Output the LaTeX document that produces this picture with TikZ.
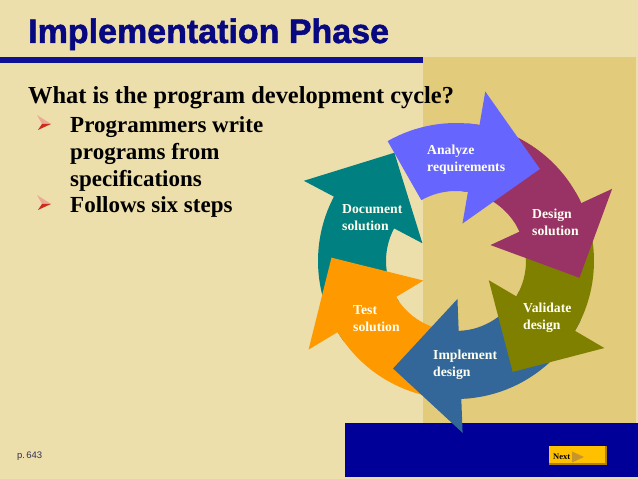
\documentclass[tikz,border=0pt]{standalone}
\usepackage{fontspec}
\setmainfont{Liberation Serif}
\newfontfamily\sansf{Liberation Sans}
\newfontfamily\titlef[FakeBold=1.5]{Liberation Sans}
\definecolor{bglight}{RGB}{237,223,172}
\definecolor{bgdark}{RGB}{226,203,122}
\definecolor{navy}{RGB}{8,8,128}
\definecolor{linebl}{RGB}{16,16,150}
\definecolor{barblue}{RGB}{0,0,153}
\definecolor{cAna}{RGB}{102,102,255}
\definecolor{cDes}{RGB}{153,51,102}
\definecolor{cVal}{RGB}{128,128,0}
\definecolor{cImp}{RGB}{51,102,153}
\definecolor{cTes}{RGB}{255,153,0}
\definecolor{cDoc}{RGB}{0,128,128}
\definecolor{lbltext}{RGB}{255,255,240}
\definecolor{btngold}{RGB}{255,192,0}
\definecolor{btndark}{RGB}{176,128,0}
\definecolor{btntri}{RGB}{200,150,40}
\definecolor{bulletlt}{RGB}{236,170,150}
\definecolor{bulletdk}{RGB}{200,45,30}
\newcommand{\cycarrow}[3]{%
  \fill[#1] (#2:138pt) arc[start angle=#2, end angle=#3, radius=138pt]
    -- (#3:172pt) -- (#3-32.54:124.56pt) -- (#3:38pt) -- (#3:70pt)
    arc[start angle=#3, end angle=#2, radius=70pt] -- cycle;}
\newcommand{\bulletmark}[1]{%
  \fill[bulletlt] (37,#1+9) -- (51,#1) -- (42,#1) -- cycle;
  \fill[bulletdk] (38,#1-6) -- (51,#1) -- (42,#1) -- cycle;}
\tikzset{
  lbl/.style={anchor=base west, inner sep=0pt, text=lbltext,
    font=\bfseries\fontsize{13.7}{17}\selectfont},
  body/.style={anchor=base west, inner sep=0pt, text=black,
    font=\bfseries\fontsize{23}{27}\selectfont}
}
\begin{document}
\begin{tikzpicture}[x=1pt,y=1pt]
\useasboundingbox (0,0) rectangle (638,479);
\fill[bglight] (0,0) rectangle (638,479);
\fill[bgdark] (423,56) rectangle (636,422);
\fill[linebl] (0,415.5) rectangle (423,421.5);
\node[anchor=base west, inner sep=0pt, text=navy,
  font=\titlef\bfseries\fontsize{34}{40}\selectfont] (title) at (28,436) {Implementation Phase};
\node[anchor=base west, inner sep=0pt,
  font=\bfseries\fontsize{24.4}{28}\selectfont] (q) at (28,375) {What is the program development cycle?};
\bulletmark{355}
\node[body] (b1) at (70,346) {Programmers write};
\node[body] (b2) at (70,319) {programs from};
\node[body] (b3) at (70,292) {specifications};
\bulletmark{275}
\node[body] (b4) at (70,266) {Follows six steps};
% bottom bar
\fill[barblue] (345,2) rectangle (638,56);
% cycle
\begin{scope}[shift={(456,218)}]
\cycarrow{cDoc}{-144}{-207.8}
\cycarrow{cTes}{-82.8}{-149}
\cycarrow{cImp}{-25.4}{-87.8}
\cycarrow{cVal}{29.8}{-30.4}
\cycarrow{cDes}{85.2}{24.8}
\cycarrow{cAna}{119.7}{80.2}
\end{scope}
\node[lbl] (a1) at (427,324.7) {Analyze};
\node[lbl] (a2) at (427,307.7) {requirements};
\node[lbl] (d1) at (532,260) {Design};
\node[lbl] (d2) at (532,243) {solution};
\node[lbl] (v1) at (523,166.7) {Validate};
\node[lbl] (v2) at (523,149.7) {design};
\node[lbl] (i1) at (433,119) {Implement};
\node[lbl] (i2) at (433,102) {design};
\node[lbl] (t1) at (353,164) {Test};
\node[lbl] (t2) at (353,147) {solution};
\node[lbl] (o1) at (342,265.7) {Document};
\node[lbl] (o2) at (342,248.7) {solution};
% next button
\fill[btndark] (549,14) rectangle (607,33);
\fill[btngold] (549,16) rectangle (605,33);
\node[anchor=base west, inner sep=0pt, text=black,
  font=\bfseries\fontsize{8.5}{10}\selectfont] (next) at (553,19.5) {Next};
\fill[btntri] (572,27.5) -- (584,22) -- (572,16.5) -- cycle;
\node[anchor=base west, inner sep=0pt, text={rgb,255:red,50;green,50;blue,80},
  font=\sansf\fontsize{9.5}{11}\selectfont] (page) at (17,20) {p.\kern1.2pt 643};
\end{tikzpicture}
\end{document}
